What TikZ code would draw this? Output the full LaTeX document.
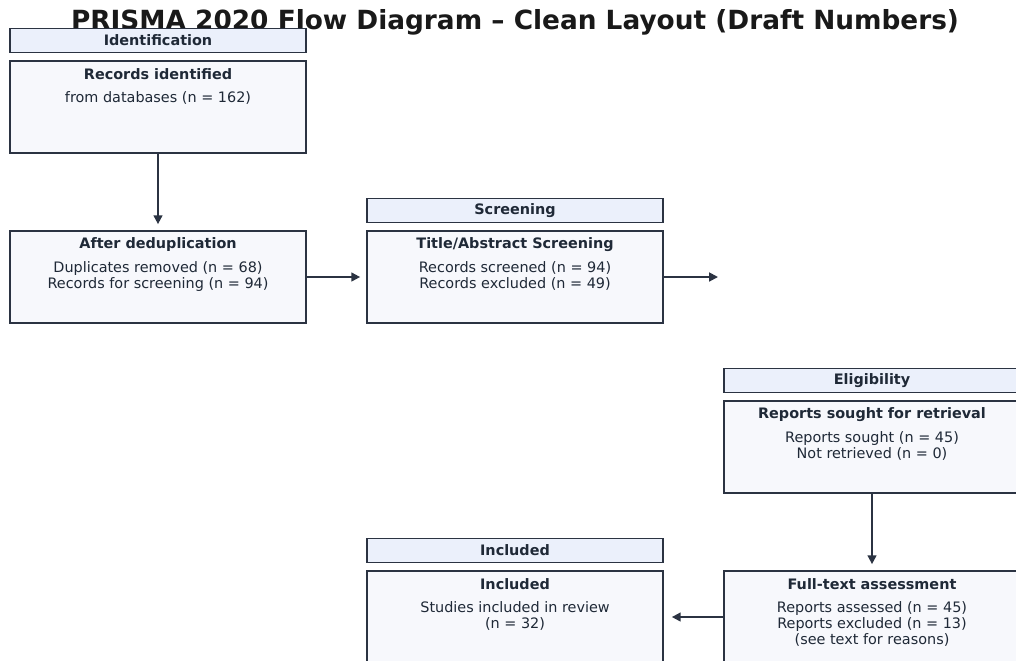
\documentclass[tikz,border=0pt]{standalone}
\usepackage{fontspec}
\setmainfont{DejaVu Sans}
\usetikzlibrary{arrows.meta}

\definecolor{edge}{HTML}{2B3342}
\definecolor{ink}{HTML}{1F2937}
\definecolor{headfill}{HTML}{EBF0FB}
\definecolor{boxfill}{HTML}{F7F8FC}

\begin{document}
\begin{tikzpicture}[x=0.02cm,y=-0.02cm,
  stage/.style={rectangle,draw=edge,fill=headfill,line width=0.8pt,minimum width=5.92cm,minimum height=0.48cm,inner sep=0pt,font=\fontsize{8.2}{9}\selectfont\bfseries,text=ink},
  box/.style={rectangle,draw=edge,fill=boxfill,line width=1pt,minimum width=5.92cm,minimum height=1.84cm,inner sep=0pt},
  heading/.style={font=\fontsize{8.2}{9}\selectfont\bfseries,text=ink,inner sep=0pt},
  body/.style={font=\fontsize{8.2}{9.07}\selectfont,text=ink,align=center,anchor=north,inner sep=0pt},
  flow/.style={-{Triangle[length=5pt,width=5pt]},line width=1.05pt,draw=edge}]

\useasboundingbox (0,0) rectangle (1016,660);
\clip (0,0) rectangle (1016,660);
\fill[white] (0,0) rectangle (1016,660);

\node[font=\fontsize{15}{17}\selectfont\bfseries,text=black!90] (title) at (515,22)
      {PRISMA 2020 Flow Diagram – Clean Layout (Draft Numbers)};

\node[stage] (identhead) at (158,40.5) {Identification};
\node[stage] (screenhead) at (515,210.5) {Screening};
\node[stage] (eligHead) at (872,380.5) {Eligibility};
\node[stage] (inclhead) at (515,550.5) {Included};

\node[box] (found) at (158,107) {};
\node[heading] (found-t) at ([yshift=-0.28cm]found.north) {Records identified};
\node[body] (found-b) at ([yshift=-0.62cm]found.north) {from databases (n = 162)};

\node[box] (dedup) at (158,277) {};
\node[heading] (dedup-t) at ([yshift=-0.28cm]dedup.north) {After deduplication};
\node[body] (dedup-b) at ([yshift=-0.62cm]dedup.north) {Duplicates removed (n = 68)\\Records for screening (n = 94)};

\node[box] (tiab) at (515,277) {};
\node[heading] (tiab-t) at ([yshift=-0.28cm]tiab.north) {Title/Abstract Screening};
\node[body] (tiab-b) at ([yshift=-0.62cm]tiab.north) {Records screened (n = 94)\\Records excluded (n = 49)};

\node[box] (sought) at (872,447) {};
\node[heading] (sought-t) at ([yshift=-0.28cm]sought.north) {Reports sought for retrieval};
\node[body] (sought-b) at ([yshift=-0.62cm]sought.north) {Reports sought (n = 45)\\Not retrieved (n = 0)};

\node[box] (fulltext) at (872,617) {};
\node[heading] (fulltext-t) at ([yshift=-0.28cm]fulltext.north) {Full-text assessment};
\node[body] (fulltext-b) at ([yshift=-0.62cm]fulltext.north) {Reports assessed (n = 45)\\Reports excluded (n = 13)\\(see text for reasons)};

\node[box] (incl) at (515,617) {};
\node[heading] (incl-t) at ([yshift=-0.28cm]incl.north) {Included};
\node[body] (incl-b) at ([yshift=-0.62cm]incl.north) {Studies included in review\\(n = 32)};

\coordinate (loose) at (718,277);

\draw[flow,shorten >=0.12cm] (found) -- (dedup);
\draw[flow,shorten >=0.12cm] (dedup) -- (tiab);
\draw[flow] (tiab) -- (loose);
\draw[flow,shorten >=0.12cm] (sought) -- (fulltext);
\draw[flow,shorten >=0.16cm] (fulltext) -- (incl);
\end{tikzpicture}
\end{document}
